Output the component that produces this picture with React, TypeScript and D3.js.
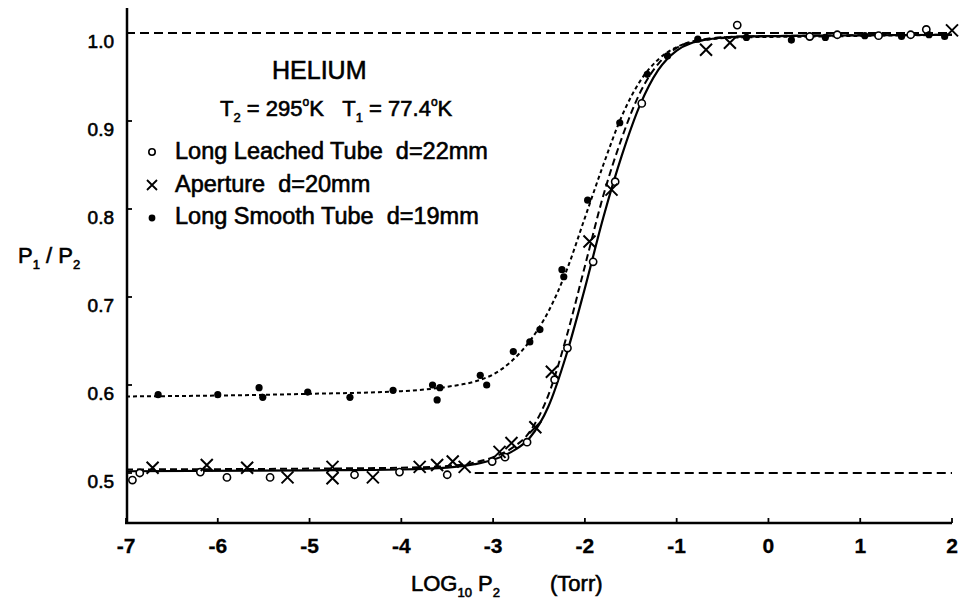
import React from "react";
import * as d3 from "d3";

// ---- data ----
const X_TICKS = [-7, -6, -5, -4, -3, -2, -1, 0, 1, 2];
const Y_TICKS = [0.5, 0.6, 0.7, 0.8, 0.9, 1.0];

// Long Leached Tube d=22mm (open circles)
const leachedPts: [number, number][] = [
  [-6.93, 0.492], [-6.85, 0.5], [-6.19, 0.501], [-5.9, 0.495], [-5.43, 0.495],
  [-4.51, 0.498], [-4.02, 0.501], [-3.5, 0.498], [-3.01, 0.513], [-2.87, 0.518],
  [-2.63, 0.535], [-2.33, 0.606], [-2.19, 0.642], [-1.91, 0.74], [-1.67, 0.831],
  [-1.38, 0.92], [-0.34, 1.009], [0.45, 0.996], [0.75, 0.998], [1.2, 0.997],
  [1.55, 0.998], [1.72, 1.004],
];
// Aperture d=20mm (crosses)
const aperturePts: [number, number][] = [
  [-6.71, 0.506], [-6.12, 0.509], [-5.68, 0.506], [-5.24, 0.495], [-4.75, 0.507],
  [-4.75, 0.494], [-4.31, 0.495], [-3.8, 0.507], [-3.61, 0.509], [-3.44, 0.513],
  [-3.31, 0.507], [-2.93, 0.524], [-2.8, 0.534], [-2.54, 0.552], [-2.36, 0.615],
  [-1.95, 0.763], [-1.71, 0.822], [-0.68, 0.981], [-0.42, 0.989], [2.0, 1.003],
];
// Long Smooth Tube d=19mm (filled dots)
const smoothPts: [number, number][] = [
  [-6.65, 0.589], [-6.0, 0.589], [-5.55, 0.597], [-5.51, 0.586], [-5.02, 0.592],
  [-4.56, 0.586], [-4.09, 0.594], [-3.66, 0.6], [-3.61, 0.583], [-3.58, 0.597],
  [-3.14, 0.611], [-3.07, 0.6], [-2.78, 0.638], [-2.6, 0.649], [-2.49, 0.663],
  [-2.25, 0.731], [-2.23, 0.723], [-1.97, 0.81], [-1.62, 0.898], [-1.32, 0.953],
  [-1.1, 0.974], [-0.77, 0.993], [-0.24, 0.995], [0.25, 0.992], [0.62, 0.995],
  [1.05, 0.997], [1.45, 0.996], [1.75, 0.998], [1.92, 0.996],
];

// fitted curves
const leachedCurve: [number, number][] = [
  [-7, 0.502], [-5, 0.503], [-4, 0.504], [-3.5, 0.506], [-3.2, 0.51], [-3.0, 0.515],
  [-2.8, 0.524], [-2.6, 0.54], [-2.4, 0.575], [-2.2, 0.635], [-2.0, 0.71], [-1.8, 0.79],
  [-1.6, 0.86], [-1.4, 0.918], [-1.2, 0.958], [-1.0, 0.98], [-0.7, 0.992], [-0.3, 0.996],
  [0.5, 0.997], [2, 0.998],
];
const apertureCurve: [number, number][] = [
  [-7, 0.504], [-5, 0.505], [-4, 0.506], [-3.5, 0.508], [-3.2, 0.512], [-3.0, 0.518],
  [-2.8, 0.528], [-2.6, 0.547], [-2.4, 0.588], [-2.2, 0.655], [-2.0, 0.735], [-1.8, 0.815],
  [-1.6, 0.88], [-1.4, 0.932], [-1.2, 0.965], [-1.0, 0.983], [-0.7, 0.993], [-0.3, 0.996],
  [2, 0.998],
];
const smoothCurve: [number, number][] = [
  [-7, 0.587], [-6, 0.588], [-5, 0.59], [-4, 0.593], [-3.5, 0.598], [-3.2, 0.604],
  [-3.0, 0.612], [-2.8, 0.627], [-2.6, 0.65], [-2.4, 0.683], [-2.2, 0.73], [-2.0, 0.79],
  [-1.8, 0.85], [-1.6, 0.905], [-1.4, 0.945], [-1.2, 0.97], [-1.0, 0.984], [-0.7, 0.992],
  [-0.3, 0.995], [0.5, 0.996], [2, 0.998],
];
const refTop: [number, number][] = [[-7, 1.0], [2, 1.0]];
const refBottom: [number, number][] = [[-3.2, 0.5], [2, 0.5]];

const FONT = "'Liberation Sans', Arial, Helvetica, sans-serif";
const NB = "\u00A0";

export default function App() {
  const W = 967, H = 605;
  const x = d3.scaleLinear().domain([-7, 2]).range([126, 952]);
  const y = d3.scaleLinear().domain([0.5, 1.0]).range([473, 33]);
  const line = d3.line<[number, number]>().x(d => x(d[0])).y(d => y(d[1])).curve(d3.curveMonotoneX);
  const axisY = 523;
  const axisX = 127;
  const txt = { fontFamily: FONT, fill: "#000", stroke: "#000", strokeWidth: 0.6, style: { whiteSpace: "pre" as const } };

  return (
    <svg width={W} height={H} style={{ position: "absolute", left: 0, top: 0, background: "#fff" }}>
      <rect width={W} height={H} fill="#fff" />
      {/* axes */}
      <line x1={axisX} y1={8} x2={axisX} y2={axisY + 1} stroke="#000" strokeWidth={2.5} />
      <line x1={125} y1={axisY} x2={x(2)} y2={axisY} stroke="#000" strokeWidth={2.5} />
      {X_TICKS.map(t => (
        <g key={"xt" + t}>
          <line x1={x(t)} x2={x(t)} y1={axisY} y2={axisY - 5} stroke="#000" strokeWidth={1.8} />
          <text x={x(t)} y={553} textAnchor="middle" fontSize={21} fontWeight="bold" {...txt} strokeWidth={0.3}>
            {t < 0 ? "-" + Math.abs(t) : String(t)}
          </text>
        </g>
      ))}
      {Y_TICKS.map(t => (
        <g key={"yt" + t}>
          <line x1={axisX} x2={axisX + 5} y1={y(t)} y2={y(t)} stroke="#000" strokeWidth={1.8} />
          <text x={114} y={y(t) + 15} textAnchor="end" fontSize={19} {...txt}>
            {t.toFixed(1)}
          </text>
        </g>
      ))}
      {/* axis titles */}
      <text x={18} y={263} fontSize={22} {...txt}>
        P<tspan fontSize={13} dy={6}>1</tspan>
        <tspan dy={-6}>{NB}/{NB}P</tspan>
        <tspan fontSize={13} dy={6}>2</tspan>
      </text>
      <text x={411} y={591} fontSize={22} {...txt}>
        LOG<tspan fontSize={13} dy={6}>10</tspan>
        <tspan dy={-6}>{NB}P</tspan>
        <tspan fontSize={13} dy={6}>2</tspan>
        <tspan dy={-6} x={550}>(Torr)</tspan>
      </text>

      {/* reference lines */}
      <path d={line(refTop) || ""} fill="none" stroke="#000" strokeWidth={2} strokeDasharray="9,5" />
      <path d={line(refBottom) || ""} fill="none" stroke="#000" strokeWidth={2} strokeDasharray="9,5" />

      {/* curves */}
      <path d={line(leachedCurve) || ""} fill="none" stroke="#000" strokeWidth={2.2} />
      <path d={line(apertureCurve) || ""} fill="none" stroke="#000" strokeWidth={2} strokeDasharray="7,4" />
      <path d={line(smoothCurve) || ""} fill="none" stroke="#000" strokeWidth={2} strokeDasharray="4,3" />

      {/* markers */}
      {leachedPts.map((d, i) => (
        <circle key={"c" + i} cx={x(d[0])} cy={y(d[1])} r={3.6} fill="#fff" stroke="#000" strokeWidth={1.6} />
      ))}
      {aperturePts.map((d, i) => {
        const cx = x(d[0]), cy = y(d[1]), s = 6;
        return (
          <path key={"x" + i} d={`M${cx - s},${cy - s}L${cx + s},${cy + s}M${cx - s},${cy + s}L${cx + s},${cy - s}`}
            stroke="#000" strokeWidth={2} fill="none" />
        );
      })}
      {smoothPts.map((d, i) => (
        <circle key={"d" + i} cx={x(d[0])} cy={y(d[1])} r={3.6} fill="#000" />
      ))}

      {/* legend */}
      <text x={272} y={79} fontSize={25} {...txt}>HELIUM</text>
      <text x={220} y={116} fontSize={22} {...txt}>
        T<tspan fontSize={13} dy={6}>2</tspan>
        <tspan dy={-6}>{NB}={NB}295</tspan>
        <tspan fontSize={12} dy={-10}>o</tspan>
        <tspan dy={10}>K{NB}{NB}{NB}T</tspan>
        <tspan fontSize={13} dy={6}>1</tspan>
        <tspan dy={-6}>{NB}={NB}77.4</tspan>
        <tspan fontSize={12} dy={-10}>o</tspan>
        <tspan dy={10}>K</tspan>
      </text>
      <circle cx={152} cy={152} r={3.2} fill="#fff" stroke="#000" strokeWidth={1.6} />
      <text x={175} y={159} fontSize={23.5} {...txt}>{`Long Leached Tube${NB}${NB}d=22mm`}</text>
      <path d="M147,180L157,190M147,190L157,180" stroke="#000" strokeWidth={1.8} />
      <text x={175} y={192} fontSize={23.5} {...txt}>{`Aperture${NB}${NB}d=20mm`}</text>
      <circle cx={152} cy={218} r={3.4} fill="#000" />
      <text x={175} y={224} fontSize={23.5} {...txt}>{`Long Smooth Tube${NB}${NB}d=19mm`}</text>
    </svg>
  );
}
